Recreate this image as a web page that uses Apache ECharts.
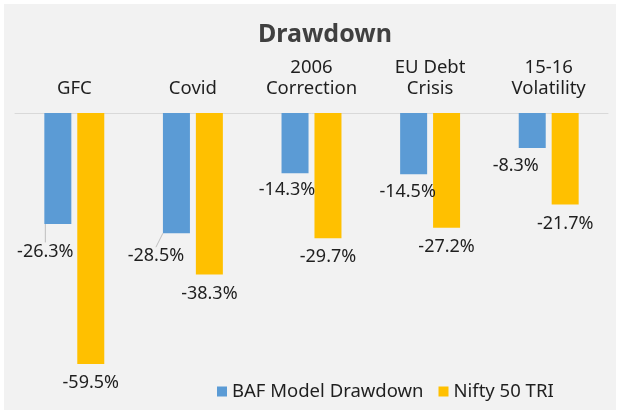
<!DOCTYPE html>
<html>
<head>
<meta charset="utf-8">
<script src="https://cdn.jsdelivr.net/npm/echarts@6/dist/echarts.min.js"></script>
<style>
html,body{margin:0;padding:0;background:#fff;}
#c{width:620px;height:414px;}
</style>
</head>
<body>
<div id="c"></div>
<script>
const categories = ['GFC', 'Covid', '2006\nCorrection', 'EU Debt\nCrisis', '15-16\nVolatility'];
const bafDrawdown = [-26.3, -28.5, -14.3, -14.5, -8.3];
const niftyTRI = [-59.5, -38.3, -29.7, -27.2, -21.7];
const seriesNames = ['BAF Model Drawdown', 'Nifty 50 TRI'];
// label shifts (dx, dy) for the blue labels, as Excel placed them
const blueLabelShift = [[-12.5, 13.5], [-20.5, 9], [-8, 3], [-6, 4], [-16.5, 4]];
const blueLeaderLine = [true, true, false, false, false];

const chart = echarts.init(document.getElementById('c'));
const font = '"Noto Sans", sans-serif';
const fmt = p => p.value.toFixed(1) + '%';

chart.setOption({
  backgroundColor: '#fff',
  graphic: [{
    type: 'rect', z: -10, silent: true,
    shape: { x: 4, y: 4, width: 612, height: 406 },
    style: { fill: '#F2F2F2' }
  }],
  title: {
    text: 'Drawdown',
    left: 253, top: 17,
    textStyle: { fontFamily: font, fontSize: 25, fontWeight: 'bold', color: '#404040' }
  },
  legend: {
    left: 212, top: 377,
    itemWidth: 10, itemHeight: 10, itemGap: 15,
    icon: 'rect',
    textStyle: { fontFamily: font, fontSize: 18.5, color: '#1f1f1f' },
    data: seriesNames
  },
  grid: { left: 15, right: 12, top: 113, bottom: 48 },
  xAxis: {
    type: 'category', position: 'top', data: categories,
    axisLine: { show: true, lineStyle: { color: '#D9D9D9', width: 1 } },
    axisTick: { show: false },
    axisLabel: { margin: 14, fontFamily: font, fontSize: 18.5, color: '#1f1f1f', lineHeight: 21 }
  },
  yAxis: {
    type: 'value', min: -60, max: 0, interval: 10, show: false,
    splitLine: { show: false }
  },
  series: [
    {
      name: seriesNames[0], type: 'bar',
      data: bafDrawdown.map((v, i) => ({ value: v, labelLine: { show: blueLeaderLine[i] } })),
      barWidth: 27, barGap: '22%',
      itemStyle: { color: '#5B9BD5' },
      label: {
        show: true, position: 'bottom', distance: 5,
        fontFamily: font, fontSize: 18, color: '#1f1f1f',
        formatter: fmt
      },
      labelLayout: p => ({ dx: blueLabelShift[p.dataIndex][0], dy: blueLabelShift[p.dataIndex][1] }),
      labelLine: { show: true, lineStyle: { color: '#BFBFBF', width: 1 } }
    },
    {
      name: seriesNames[1], type: 'bar', data: niftyTRI,
      barWidth: 27,
      itemStyle: { color: '#FFC000' },
      label: {
        show: true, position: 'bottom', distance: 10,
        fontFamily: font, fontSize: 18, color: '#1f1f1f',
        formatter: fmt
      }
    }
  ]
});
</script>
</body>
</html>
